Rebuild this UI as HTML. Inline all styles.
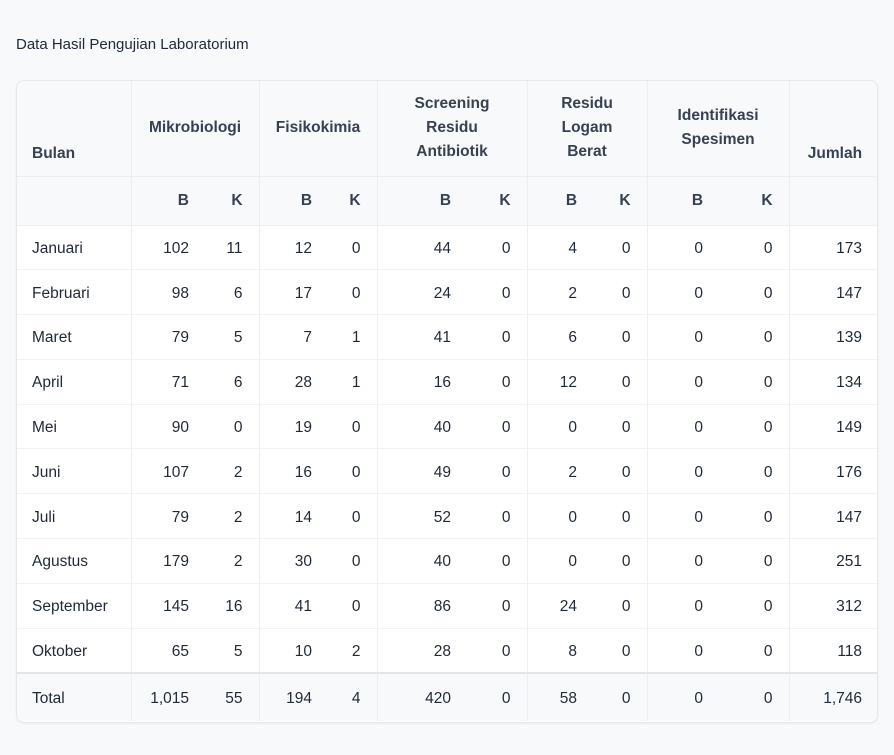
<!DOCTYPE html>
<html><head><meta charset="utf-8"><style>
html,body{margin:0;padding:0;background:#f8f9fb;width:894px;height:755px;overflow:hidden;font-family:"Liberation Sans",sans-serif;}
.title{position:absolute;left:16px;top:36px;font-size:15px;color:#1f2937;}
.box{position:absolute;left:16px;top:80px;width:860px;height:641px;border:1px solid #e5e7eb;border-radius:8px;background:#fff;overflow:hidden;box-shadow:0 1px 2px rgba(0,0,0,.05);}
table{border-collapse:collapse;table-layout:fixed;width:862px;margin:-1px;font-size:15.5px;color:#1f2937;}
td,th{padding:0 16px;border-left:1px solid #eceef1;text-align:right;box-sizing:border-box;}
td{padding-top:3px;}
td:first-child,th:first-child{border-left:none;text-align:left;}
th{background:#f8f9fb;color:#374151;font-weight:600;}
tr.h1 th{height:96px;border-bottom:1px solid #eceef1;vertical-align:middle;text-align:center;line-height:24px;}
tr.h1 th.bot{vertical-align:bottom;padding-bottom:10px;}
tr.h2 th{height:49px;border-bottom:1px solid #eceef1;}
tbody td{height:44.8px;border-bottom:1px solid #f1f2f4;}
tbody tr:last-child td{border-bottom:2px solid #e2e5e9;}
tfoot td{height:48px;background:#f8f9fb;}
.nb{border-left:none!important;}
</style></head><body>
<div class="title">Data Hasil Pengujian Laboratorium</div>
<div class="box"><table>
<colgroup><col style="width:115px"><col style="width:74px"><col style="width:54px"><col style="width:69px"><col style="width:49px"><col style="width:90px"><col style="width:60px"><col style="width:66px"><col style="width:54px"><col style="width:72px"><col style="width:70px"><col style="width:89px"></colgroup>
<thead>
<tr class="h1"><th class="bot" style="text-align:left">Bulan</th><th colspan="2">Mikrobiologi</th><th colspan="2">Fisikokimia</th><th colspan="2">Screening<br>Residu<br>Antibiotik</th><th colspan="2">Residu<br>Logam<br>Berat</th><th colspan="2">Identifikasi<br>Spesimen</th><th class="bot" style="text-align:right">Jumlah</th></tr>
<tr class="h2"><th></th><th>B</th><th class="nb">K</th><th>B</th><th class="nb">K</th><th>B</th><th class="nb">K</th><th>B</th><th class="nb">K</th><th>B</th><th class="nb">K</th><th></th></tr>
</thead>
<tbody>
<tr><td>Januari</td><td>102</td><td class="nb">11</td><td>12</td><td class="nb">0</td><td>44</td><td class="nb">0</td><td>4</td><td class="nb">0</td><td>0</td><td class="nb">0</td><td>173</td></tr>
<tr><td>Februari</td><td>98</td><td class="nb">6</td><td>17</td><td class="nb">0</td><td>24</td><td class="nb">0</td><td>2</td><td class="nb">0</td><td>0</td><td class="nb">0</td><td>147</td></tr>
<tr><td>Maret</td><td>79</td><td class="nb">5</td><td>7</td><td class="nb">1</td><td>41</td><td class="nb">0</td><td>6</td><td class="nb">0</td><td>0</td><td class="nb">0</td><td>139</td></tr>
<tr><td>April</td><td>71</td><td class="nb">6</td><td>28</td><td class="nb">1</td><td>16</td><td class="nb">0</td><td>12</td><td class="nb">0</td><td>0</td><td class="nb">0</td><td>134</td></tr>
<tr><td>Mei</td><td>90</td><td class="nb">0</td><td>19</td><td class="nb">0</td><td>40</td><td class="nb">0</td><td>0</td><td class="nb">0</td><td>0</td><td class="nb">0</td><td>149</td></tr>
<tr><td>Juni</td><td>107</td><td class="nb">2</td><td>16</td><td class="nb">0</td><td>49</td><td class="nb">0</td><td>2</td><td class="nb">0</td><td>0</td><td class="nb">0</td><td>176</td></tr>
<tr><td>Juli</td><td>79</td><td class="nb">2</td><td>14</td><td class="nb">0</td><td>52</td><td class="nb">0</td><td>0</td><td class="nb">0</td><td>0</td><td class="nb">0</td><td>147</td></tr>
<tr><td>Agustus</td><td>179</td><td class="nb">2</td><td>30</td><td class="nb">0</td><td>40</td><td class="nb">0</td><td>0</td><td class="nb">0</td><td>0</td><td class="nb">0</td><td>251</td></tr>
<tr><td>September</td><td>145</td><td class="nb">16</td><td>41</td><td class="nb">0</td><td>86</td><td class="nb">0</td><td>24</td><td class="nb">0</td><td>0</td><td class="nb">0</td><td>312</td></tr>
<tr><td>Oktober</td><td>65</td><td class="nb">5</td><td>10</td><td class="nb">2</td><td>28</td><td class="nb">0</td><td>8</td><td class="nb">0</td><td>0</td><td class="nb">0</td><td>118</td></tr>
</tbody>
<tfoot><tr><td>Total</td><td>1,015</td><td class="nb">55</td><td>194</td><td class="nb">4</td><td>420</td><td class="nb">0</td><td>58</td><td class="nb">0</td><td>0</td><td class="nb">0</td><td>1,746</td></tr></tfoot>
</table></div>
</body></html>
